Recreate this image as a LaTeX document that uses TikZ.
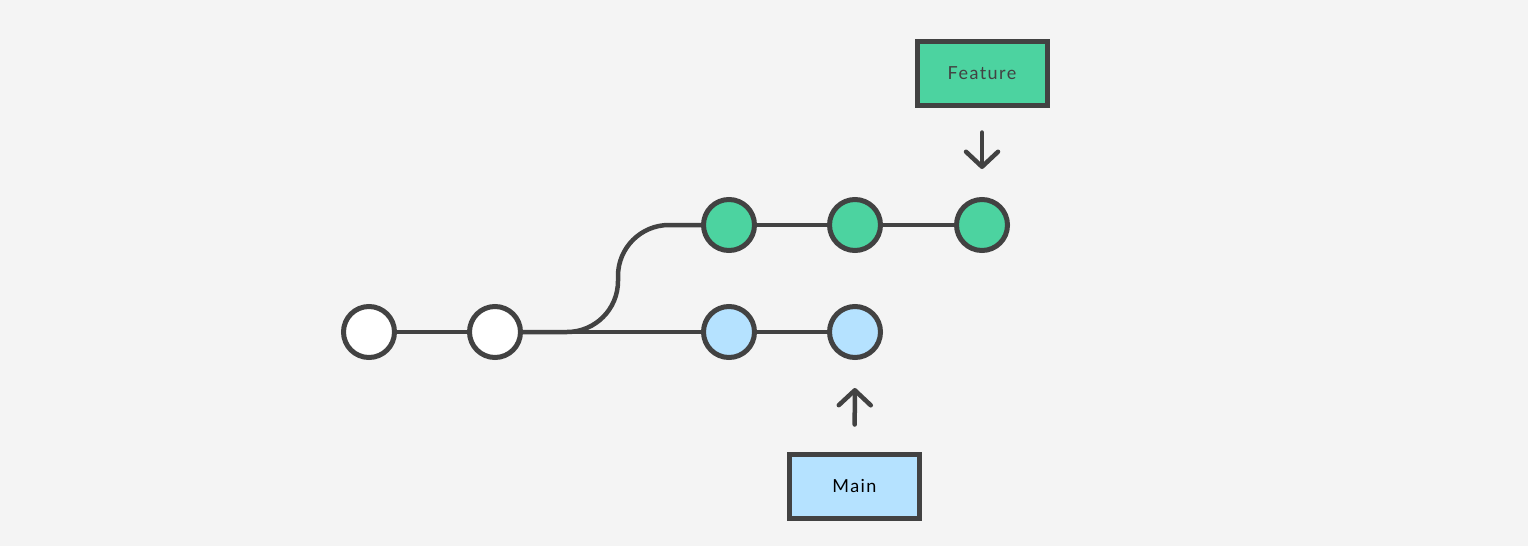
\documentclass[tikz,border=0pt]{standalone}
\usepackage{fontspec}
\setmainfont{Lato}[LetterSpace=8]
\usetikzlibrary{arrows.meta}
\definecolor{bg}{HTML}{F4F4F4}
\definecolor{ink}{HTML}{424242}
\definecolor{featgreen}{HTML}{4CD3A0}
\definecolor{mainblue}{HTML}{B5E2FF}
\begin{document}
\begin{tikzpicture}[x=1pt,y=-1pt,
  commit/.style={circle,draw=ink,line width=5pt,minimum size=51pt,inner sep=0pt},
  label box/.style={draw=ink,line width=5pt,minimum width=130pt,minimum height=64pt,inner sep=0pt,font=\fontsize{18}{21}\selectfont,text=ink},
  edge/.style={draw=ink,line width=4.5pt},
  pointer/.style={draw=ink,line width=4.5pt,line cap=round,-{Straight Barb[round,length=15pt,width=32pt]}}
]
\fill[bg] (0,0) rectangle (1528,546);
\useasboundingbox (0,0) rectangle (1528,546);

\node[commit,fill=white] (w1) at (369,332) {};
\node[commit,fill=white] (w2) at (495,332) {};
\node[commit,fill=mainblue] (b1) at (729,332) {};
\node[commit,fill=mainblue] (b2) at (855,332) {};
\node[commit,fill=featgreen] (g1) at (729,225) {};
\node[commit,fill=featgreen] (g2) at (855,225) {};
\node[commit,fill=featgreen] (g3) at (982,225) {};

\node[label box,fill=featgreen] (feat) at (982,73) {Feature};
\node[label box,fill=mainblue,text=black] (main) at (854.5,486) {Main};

\coordinate (bend) at (567,332);
\draw[edge] (w1) -- (w2);
\draw[edge] (w2) -- (b1);
\draw[edge] (b1) -- (b2);
\draw[edge] (g1) -- (g2);
\draw[edge] (g2) -- (g3);
\draw[edge] (w2.east) -- (bend) arc[start angle=90,end angle=0,radius=51]
  -- ++(0,-5) arc[start angle=180,end angle=270,radius=51] -- (g1.west);

\draw[pointer,shorten <=25pt,shorten >=28pt] (feat) -- (g3);
\draw[pointer,shorten <=27pt,shorten >=28pt] (main) -- (b2);
\end{tikzpicture}
\end{document}
